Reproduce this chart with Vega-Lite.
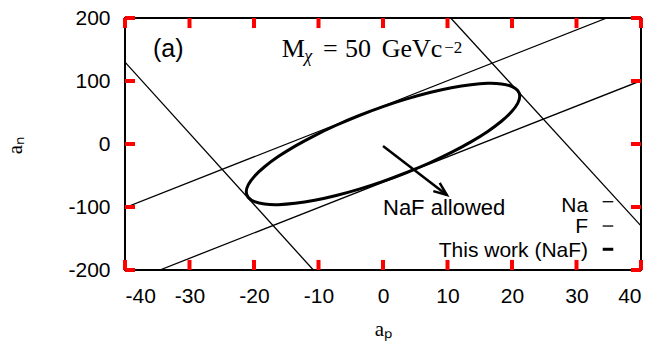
{
  "$schema": "https://vega.github.io/schema/vega-lite/v6.json",
  "width": 516,
  "height": 252,
  "autosize": {"type": "none"},
  "padding": {"left": 125, "top": 18, "right": 16, "bottom": 77},
  "background": "white",
  "config": {
    "view": {"stroke": "#000", "strokeWidth": 2},
    "axis": {
      "domain": false, "grid": false, "ticks": false, "tickSize": 0,
      "labelFont": "Liberation Sans", "labelFontSize": 21, "labelColor": "#000",
      "titleFont": "Liberation Serif", "titleFontSize": 21, "titleFontWeight": "normal", "titleColor": "#000"
    }
  },
  "datasets": {
    "xticks": [{"v": -40}, {"v": -30}, {"v": -20}, {"v": -10}, {"v": 0}, {"v": 10}, {"v": 20}, {"v": 30}, {"v": 40}],
    "yticks": [{"v": -200}, {"v": -100}, {"v": 0}, {"v": 100}, {"v": 200}],
    "lines": [
      {"g": "Na1", "x": -40, "y": 130}, {"g": "Na1", "x": -10.8, "y": -200},
      {"g": "Na2", "x": 10.5, "y": 200}, {"g": "Na2", "x": 40, "y": -130},
      {"g": "F1", "x": -40, "y": -101}, {"g": "F1", "x": 34.7, "y": 200},
      {"g": "F2", "x": -34.6, "y": -200}, {"g": "F2", "x": 40, "y": 100.5}
    ],
    "ellipse": [
      {"o": 0, "x": 21.2, "y": 75.9}, {"o": 1, "x": 20.88, "y": 85.05}, {"o": 2, "x": 19.92, "y": 91.6},
      {"o": 3, "x": 18.36, "y": 95.38}, {"o": 4, "x": 16.24, "y": 96.26}, {"o": 5, "x": 13.63, "y": 94.21},
      {"o": 6, "x": 10.6, "y": 89.3}, {"o": 7, "x": 7.25, "y": 81.68}, {"o": 8, "x": 3.68, "y": 71.58},
      {"o": 9, "x": 0, "y": 59.3}, {"o": 10, "x": -3.68, "y": 45.22}, {"o": 11, "x": -7.25, "y": 29.76},
      {"o": 12, "x": -10.6, "y": 13.4}, {"o": 13, "x": -13.63, "y": -3.37}, {"o": 14, "x": -16.24, "y": -20.02},
      {"o": 15, "x": -18.36, "y": -36.08}, {"o": 16, "x": -19.92, "y": -51.04}, {"o": 17, "x": -20.88, "y": -64.45},
      {"o": 18, "x": -21.2, "y": -75.9}, {"o": 19, "x": -20.88, "y": -85.05}, {"o": 20, "x": -19.92, "y": -91.6},
      {"o": 21, "x": -18.36, "y": -95.38}, {"o": 22, "x": -16.24, "y": -96.26}, {"o": 23, "x": -13.63, "y": -94.21},
      {"o": 24, "x": -10.6, "y": -89.3}, {"o": 25, "x": -7.25, "y": -81.68}, {"o": 26, "x": -3.68, "y": -71.58},
      {"o": 27, "x": 0, "y": -59.3}, {"o": 28, "x": 3.68, "y": -45.22}, {"o": 29, "x": 7.25, "y": -29.76},
      {"o": 30, "x": 10.6, "y": -13.4}, {"o": 31, "x": 13.63, "y": 3.37}, {"o": 32, "x": 16.24, "y": 20.02},
      {"o": 33, "x": 18.36, "y": 36.08}, {"o": 34, "x": 19.92, "y": 51.04}, {"o": 35, "x": 20.88, "y": 64.45}
    ],
    "arrow": [
      {"g": "shaft", "o": 0, "x": 0, "y": -3}, {"g": "shaft", "o": 1, "x": 9.9, "y": -81},
      {"g": "head", "o": 0, "x": 8.79, "y": -61.7}, {"g": "head", "o": 1, "x": 9.9, "y": -81}, {"g": "head", "o": 2, "x": 7.8, "y": -74.8}
    ]
  },
  "layer": [
    {
      "data": {"name": "lines"},
      "mark": {"type": "line", "clip": true, "color": "#000", "strokeWidth": 1.3},
      "encoding": {
        "x": {"field": "x", "type": "quantitative",
          "scale": {"domain": [-40, 40], "nice": false, "zero": false},
          "axis": {"orient": "bottom", "values": [-40, -30, -20, -10, 0, 10, 20, 30, 40],
            "labelExpr": "datum.value < 0 ? '-' + abs(datum.value) : '' + datum.value",
            "labelBaseline": "alphabetic", "labelPadding": 32,
            "title": "aₚ", "titleBaseline": "alphabetic", "titleY": 65}},
        "y": {"field": "y", "type": "quantitative",
          "scale": {"domain": [-200, 200], "nice": false, "zero": false},
          "axis": {"orient": "left", "values": [-200, -100, 0, 100, 200],
            "labelExpr": "datum.value < 0 ? '-' + abs(datum.value) : '' + datum.value",
            "labelPadding": 15,
            "title": "aₙ", "titleAngle": 270, "titleAlign": "center", "titleBaseline": "alphabetic",
            "titleX": -104, "titleY": 127}},
        "detail": {"field": "g"}
      }
    },
    {
      "data": {"name": "xticks"},
      "mark": {"type": "rule", "strokeWidth": 4, "color": "red"},
      "encoding": {
        "x": {"field": "v", "type": "quantitative"},
        "y": {"datum": -200, "type": "quantitative"},
        "y2": {"datum": -184}
      }
    },
    {
      "data": {"name": "xticks"},
      "mark": {"type": "rule", "strokeWidth": 4, "color": "red"},
      "encoding": {
        "x": {"field": "v", "type": "quantitative"},
        "y": {"datum": 200, "type": "quantitative"},
        "y2": {"datum": 184}
      }
    },
    {
      "data": {"name": "yticks"},
      "mark": {"type": "rule", "strokeWidth": 4, "color": "red"},
      "encoding": {
        "y": {"field": "v", "type": "quantitative"},
        "x": {"datum": -40, "type": "quantitative"},
        "x2": {"datum": -38.45}
      }
    },
    {
      "data": {"name": "yticks"},
      "mark": {"type": "rule", "strokeWidth": 4, "color": "red"},
      "encoding": {
        "y": {"field": "v", "type": "quantitative"},
        "x": {"datum": 40, "type": "quantitative"},
        "x2": {"datum": 38.45}
      }
    },
    {
      "data": {"name": "ellipse"},
      "mark": {"type": "line", "clip": true, "color": "#000", "strokeWidth": 3, "interpolate": "cardinal-closed"},
      "encoding": {
        "x": {"field": "x", "type": "quantitative"},
        "y": {"field": "y", "type": "quantitative"},
        "order": {"field": "o"}
      }
    },
    {
      "data": {"name": "arrow"},
      "mark": {"type": "line", "color": "#000", "strokeWidth": 2.5},
      "encoding": {
        "x": {"field": "x", "type": "quantitative"},
        "y": {"field": "y", "type": "quantitative"},
        "detail": {"field": "g"},
        "order": {"field": "o"}
      }
    },
    {
      "data": {"values": [{"t": "NaF allowed", "x": 0, "y": -112.7}]},
      "mark": {"type": "text", "align": "left", "baseline": "alphabetic", "font": "Liberation Sans", "fontSize": 22, "color": "#000"},
      "encoding": {
        "x": {"field": "x", "type": "quantitative"},
        "y": {"field": "y", "type": "quantitative"},
        "text": {"field": "t"}
      }
    },
    {
      "data": {"values": [
        {"t": "Na", "x": 31.8, "y": -107.5},
        {"t": "F", "x": 31.8, "y": -141.3},
        {"t": "This work (NaF)", "x": 31.8, "y": -178.9}
      ]},
      "mark": {"type": "text", "align": "right", "baseline": "alphabetic", "font": "Liberation Sans", "fontSize": 21, "color": "#000"},
      "encoding": {
        "x": {"field": "x", "type": "quantitative"},
        "y": {"field": "y", "type": "quantitative"},
        "text": {"field": "t"}
      }
    },
    {
      "data": {"values": [{"x": 34.06, "x2": 35.7, "y": -91.6}, {"x": 34.06, "x2": 35.7, "y": -130.2}]},
      "mark": {"type": "rule", "color": "#000", "strokeWidth": 1.3},
      "encoding": {
        "x": {"field": "x", "type": "quantitative"},
        "x2": {"field": "x2"},
        "y": {"field": "y", "type": "quantitative"}
      }
    },
    {
      "data": {"values": [{"x": 34.06, "x2": 35.7, "y": -167.1}]},
      "mark": {"type": "rule", "color": "#000", "strokeWidth": 3},
      "encoding": {
        "x": {"field": "x", "type": "quantitative"},
        "x2": {"field": "x2"},
        "y": {"field": "y", "type": "quantitative"}
      }
    },
    {
      "data": {"values": [{"t": "(a)", "x": -35.66, "y": 138.6}]},
      "mark": {"type": "text", "align": "left", "baseline": "alphabetic", "font": "Liberation Sans", "fontSize": 25, "color": "#000"},
      "encoding": {
        "x": {"field": "x", "type": "quantitative"},
        "y": {"field": "y", "type": "quantitative"},
        "text": {"field": "t"}
      }
    },
    {
      "data": {"values": [
        {"t": "M", "x": -15.71, "y": 138.6},
        {"t": "=", "x": -9.3, "y": 138.6},
        {"t": "50", "x": -5.89, "y": 138.6},
        {"t": "GeVc", "x": -0.2, "y": 138.6}
      ]},
      "mark": {"type": "text", "align": "left", "baseline": "alphabetic", "font": "Liberation Serif", "fontSize": 26, "color": "#000"},
      "encoding": {
        "x": {"field": "x", "type": "quantitative"},
        "y": {"field": "y", "type": "quantitative"},
        "text": {"field": "t"}
      }
    },
    {
      "data": {"values": [{"t": "χ", "x": -12.2, "y": 129.4}]},
      "mark": {"type": "text", "align": "left", "baseline": "alphabetic", "font": "Liberation Serif", "fontStyle": "italic", "fontSize": 18, "color": "#000"},
      "encoding": {
        "x": {"field": "x", "type": "quantitative"},
        "y": {"field": "y", "type": "quantitative"},
        "text": {"field": "t"}
      }
    },
    {
      "data": {"values": [{"t": "−2", "x": 9.5, "y": 144}]},
      "mark": {"type": "text", "align": "left", "baseline": "alphabetic", "font": "Liberation Serif", "fontSize": 17, "color": "#000"},
      "encoding": {
        "x": {"field": "x", "type": "quantitative"},
        "y": {"field": "y", "type": "quantitative"},
        "text": {"field": "t"}
      }
    }
  ]
}
